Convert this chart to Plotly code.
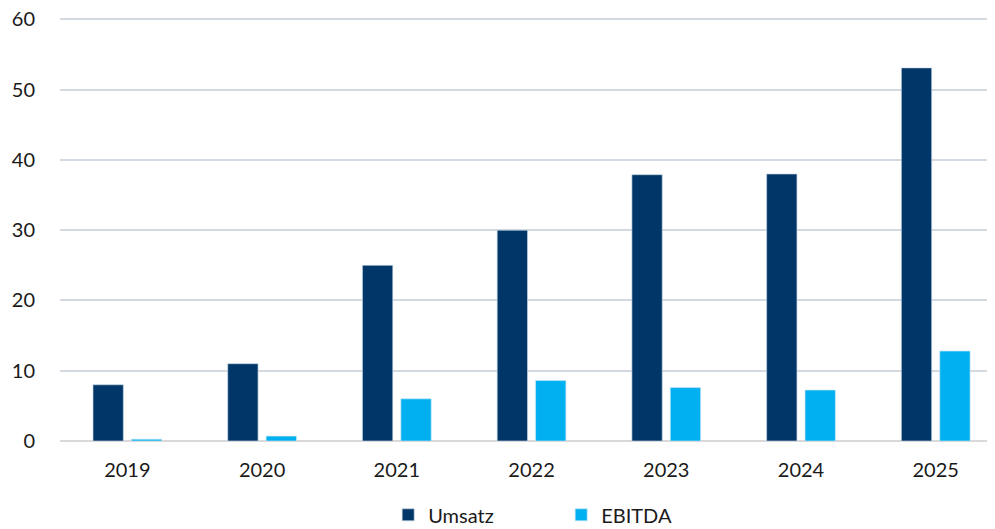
import plotly.graph_objects as go

# ── Data ─────────────────────────────────────────────────────────────────────
years = ["2019", "2020", "2021", "2022", "2023", "2024", "2025"]
umsatz = [8.0, 11.0, 25.0, 30.0, 37.9, 38.0, 53.1]
ebitda = [0.25, 0.7, 6.0, 8.6, 7.6, 7.25, 12.8]
y_ticks = [0, 10, 20, 30, 40, 50, 60]

NAVY = "#003768"
SKY = "#00B0F0"
GRID = "#D3D9E0"
FONT = {"family": "Lato, 'Open Sans', sans-serif", "size": 20, "color": "#1A1A1A"}

fig = go.Figure()
fig.add_trace(go.Bar(
    x=years, y=umsatz, name="Umsatz",
    marker={"color": NAVY, "line": {"color": "rgba(200,215,230,0.8)", "width": 0.8}},
))
fig.add_trace(go.Bar(
    x=years, y=ebitda, name="EBITDA",
    marker={"color": SKY, "line": {"color": "rgba(200,230,245,0.8)", "width": 0.8}},
))

# page body adds an 8px offset, so margins are shifted to compensate
fig.update_layout(
    width=995, height=529,
    paper_bgcolor="white", plot_bgcolor="white",
    font=FONT,
    barmode="group",
    bargap=0.43,
    bargroupgap=0.21,
    margin={"l": 52, "r": 8, "t": 10, "b": 96, "autoexpand": False},
    xaxis={
        "type": "category",
        "range": [-0.5, 6.44],
        "showgrid": False,
        "showline": False,
        "ticks": "",
        "ticklabelstandoff": 15,
        "automargin": False,
    },
    yaxis={
        # a little headroom so the 60 gridline is not dropped at the edge
        "range": [0, 60.2],
        "tickvals": y_ticks,
        "showgrid": True,
        "gridcolor": GRID,
        "gridwidth": 1.5,
        "zeroline": True,
        "zerolinecolor": "#D9D9D9",
        "zerolinewidth": 1.5,
        "showline": False,
        "ticks": "",
        "ticklabelstandoff": 24,
        "ticklabeloverflow": "allow",
        "automargin": False,
    },
    legend={
        "orientation": "h",
        "x": 0.351, "xanchor": "left",
        "yref": "container",
        "y": 0.042, "yanchor": "middle",
        "entrywidth": 128,
        "itemwidth": 30,
        "font": FONT,
    },
)

fig.write_html("out.html")
